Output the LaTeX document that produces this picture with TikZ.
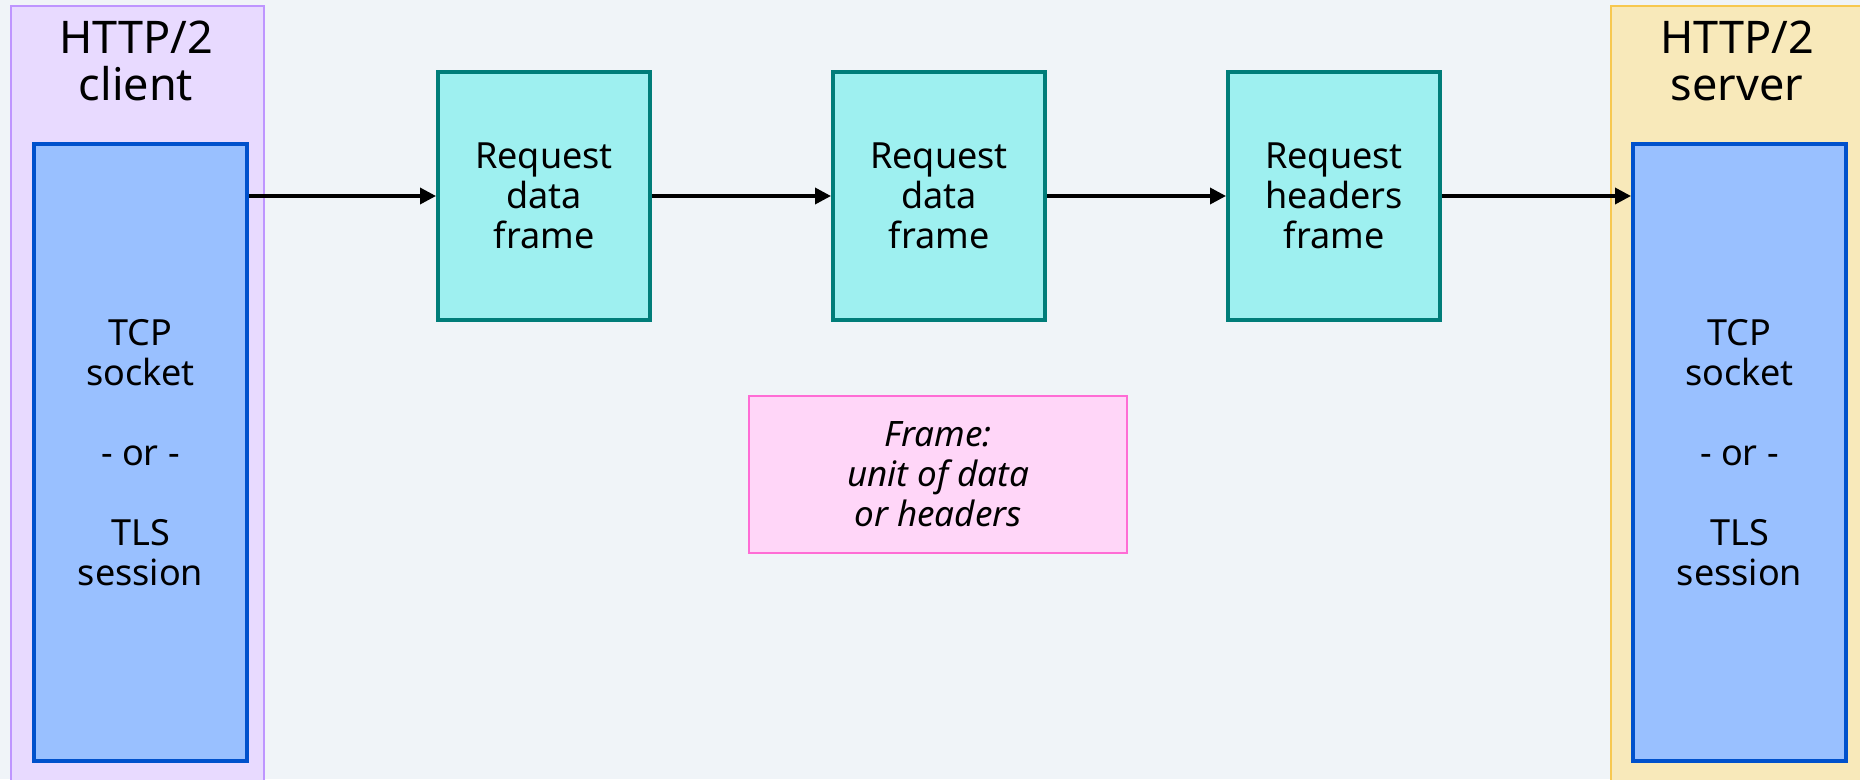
\documentclass[tikz,border=0pt]{standalone}
\usepackage{fontspec}
\setmainfont{Noto Sans}
\usetikzlibrary{arrows.meta}
\definecolor{bgc}{RGB}{240,244,248}
\definecolor{clientfill}{RGB}{232,218,255}
\definecolor{clientline}{RGB}{190,149,255}
\definecolor{serverfill}{RGB}{248,233,186}
\definecolor{serverline}{RGB}{247,200,80}
\definecolor{sockfill}{RGB}{153,192,255}
\definecolor{sockline}{RGB}{0,81,204}
\definecolor{framefill}{RGB}{158,240,240}
\definecolor{frameline}{RGB}{0,125,121}
\definecolor{notefill}{RGB}{255,214,248}
\definecolor{noteline}{RGB}{255,108,213}
\tikzset{
  endpoint/.style={draw, line width=2pt, minimum width=253pt, minimum height=800pt, inner sep=0pt},
  socketbox/.style={draw=sockline, fill=sockfill, line width=4pt, minimum width=213pt, minimum height=617pt,
    align=center, inner sep=0pt, font=\fontsize{36}{40}\selectfont},
  framebox/.style={draw=frameline, fill=framefill, line width=4pt, minimum width=212pt, minimum height=248pt,
    align=center, inner sep=0pt, font=\fontsize{36}{40}\selectfont},
  notebox/.style={draw=noteline, fill=notefill, line width=2pt, minimum width=378pt, minimum height=157pt,
    align=center, inner sep=0pt, font=\fontsize{35}{40}\selectfont\itshape},
  titletext/.style={align=center, inner sep=0pt, font=\fontsize{45}{47}\selectfont},
  flow/.style={line width=3.5pt, -{Triangle[length=16pt, width=16pt]}},
}
\begin{document}
\begin{tikzpicture}[x=1pt, y=-1pt]
  \clip (0,0) rectangle (1860,779);
  \fill[bgc] (0,0) rectangle (1860,779);

  % client and server endpoints
  \node[endpoint, draw=clientline, fill=clientfill, anchor=north west] (client) at (9.5,5) {};
  \node[endpoint, draw=serverline, fill=serverfill, anchor=north west] (server) at (1610,5) {};
  \node[titletext] (ctitle) at (136,61) {HTTP/2\\client};
  \node[titletext] (stitle) at (1737,61) {HTTP/2\\server};

  % transport sessions
  \node[socketbox, anchor=north west] (csock) at (32,142) {TCP\\socket\\[40pt]- or -\\[40pt]TLS\\session};
  \node[socketbox, anchor=north west] (ssock) at (1631,142) {TCP\\socket\\[40pt]- or -\\[40pt]TLS\\session};

  % frames in flight
  \node[framebox, anchor=north west] (f1) at (436,70) {Request\\data\\frame};
  \node[framebox, anchor=north west] (f2) at (831,70) {Request\\data\\frame};
  \node[framebox, anchor=north west] (f3) at (1226,70) {Request\\headers\\frame};

  % legend
  \node[notebox, anchor=north west] (note) at (748,395) {Frame:\\unit of data\\or headers};

  % flow of frames
  \draw[flow] (csock.east |- f1.west) -- (f1.west);
  \draw[flow] (f1.east) -- (f2.west);
  \draw[flow] (f2.east) -- (f3.west);
  \draw[flow] (f3.east) -- (f3.east -| ssock.west);
\end{tikzpicture}
\end{document}
